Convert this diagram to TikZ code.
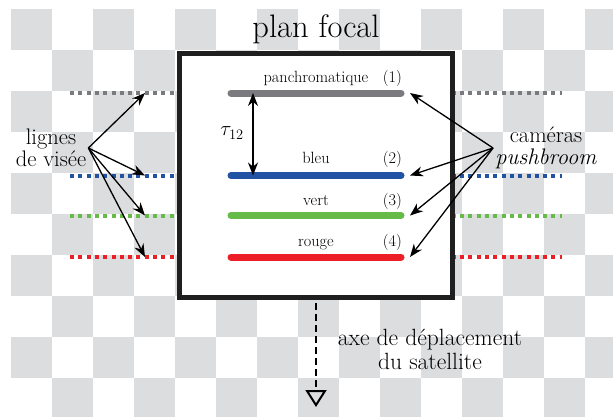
\documentclass[tikz,border=0pt]{standalone}
\usepackage{amsmath}
\usepackage{xcolor}
\usetikzlibrary{arrows.meta}

\definecolor{damier}{RGB}{220,221,223}
\definecolor{pangris}{RGB}{122,122,127}
\definecolor{bleuc}{RGB}{33,82,163}
\definecolor{vertc}{RGB}{102,186,72}
\definecolor{rougec}{RGB}{236,30,38}

\tikzset{
  barrette/.style={line width=7pt,line cap=round},
  visee/.style={line width=4pt,dash pattern=on 4pt off 4.3pt},
  pointe/.tip={Stealth[length=13pt,width=10pt]},
  fleche/.style={-pointe,line width=1.3pt},
  petit/.style={font=\fontsize{16.3}{18}\selectfont,anchor=base,inner sep=0pt},
  gros/.style={font=\fontsize{22.5}{22.5}\selectfont,align=center,inner sep=2pt},
}

\begin{document}
\begin{tikzpicture}[x=1pt,y=-1pt]
            \useasboundingbox (0,0) rectangle (613,416);

            % damier de fond
            \begin{scope}
            \clip (0,0) rectangle (613,416);
            \foreach \c in {0,...,14}{
              \foreach \r in {0,...,9}{
                \pgfmathparse{int(mod(\c+\r,2))}
                \ifnum\pgfmathresult=0
                  \fill[damier] (11+41*\c,9+41*\r) rectangle ++(41,41);
                \fi
              }
            }
            \end{scope}

            % lignes de visee
            \draw[visee,pangris](70,93) -- (562,93);
            \draw[visee,bleuc](70,175.5) -- (562,175.5);
            \draw[visee,vertc](70,215.5) -- (562,215.5);
            \draw[visee,rougec](70,257) -- (562,257);

            % plan focal
            \node[draw=black!88,line width=4.5pt,fill=white,inner sep=0pt,
                  minimum width=273pt,minimum height=244pt] (plan) at (316,175.5) {};
            \node[font=\fontsize{32.5}{32}\selectfont,anchor=base] (titre) at (316,37) {plan focal};

            % barrettes
            \coordinate (b1g) at (231,93);   \coordinate (b1d) at (401,93);
            \coordinate (b2g) at (231,175.5);\coordinate (b2d) at (401,175.5);
            \coordinate (b3g) at (231,215.5);\coordinate (b3d) at (401,215.5);
            \coordinate (b4g) at (231,257);  \coordinate (b4d) at (401,257);
            \draw[barrette,pangris](b1g) -- (b1d);
            \draw[barrette,bleuc](b2g) -- (b2d);
            \draw[barrette,vertc](b3g) -- (b3d);
            \draw[barrette,rougec](b4g) -- (b4d);

            \node[petit] (pan) at (316,82){panchromatique};
            \node[petit] (bleu) at (316,163){bleu};
            \node[petit] (vert) at (316,205){vert};
            \node[petit] (rouge) at (316,246){rouge};
            \node[petit,anchor=base east] (n1) at (402,82){(1)};
            \node[petit,anchor=base east] (n2) at (402,163){(2)};
            \node[petit,anchor=base east] (n3) at (402,205){(3)};
            \node[petit,anchor=base east] (n4) at (402,246){(4)};

            % decalage
            \coordinate (t1) at (253,93);
            \coordinate (t2) at (253,175.5);
            \draw[pointe-pointe,line width=1.3pt](t1) -- (t2);
            \node[font=\fontsize{22}{22}\selectfont] (tau) at (232,133){$\tau_{12}$};

            % lignes de visee
            \node[gros] (lignes) at (51,148){lignes\\de vis\'ee};
            \coordinate (v1) at (145,93);
            \coordinate (v2) at (145,175.5);
            \coordinate (v3) at (145,215.5);
            \coordinate (v4) at (145,257);
            \draw[fleche](lignes.east) -- (v1);
            \draw[fleche](lignes.east) -- (v2);
            \draw[fleche](lignes.east) -- (v3);
            \draw[fleche](lignes.east) -- (v4);

            % cameras
            \node[gros] (cam) at (546,148){cam\'eras\\\textit{pushbroom}};
            \coordinate (c1) at (410,93);
            \coordinate (c2) at (410,175.5);
            \coordinate (c3) at (410,215.5);
            \coordinate (c4) at (410,257);
            \draw[fleche](cam.west) -- (c1);
            \draw[fleche](cam.west) -- (c2);
            \draw[fleche](cam.west) -- (c3);
            \draw[fleche](cam.west) -- (c4);

            % deplacement
            \coordinate (a1) at (316,303);
            \coordinate (a2) at (316,407);
            \draw[line width=2.5pt,dash pattern=on 7pt off 4pt,
                  -{Triangle[open,length=17pt,width=21pt,line width=2pt]}](a1) -- (a2);
            \node[font=\fontsize{23.5}{24}\selectfont,align=center] (axe) at (430,349){axe de d\'eplacement\\du satellite};
        \end{tikzpicture}
\end{document}
